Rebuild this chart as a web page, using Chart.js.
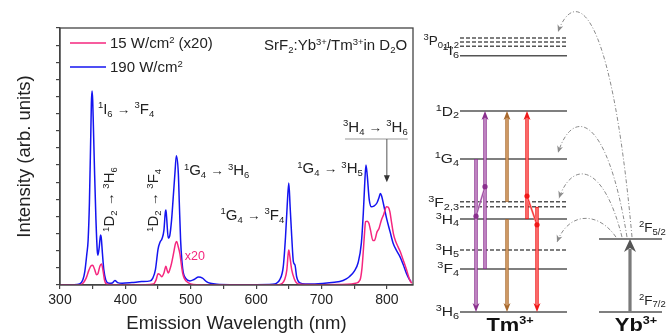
<!DOCTYPE html>
<html>
<head>
<meta charset="utf-8">
<script src="https://cdn.jsdelivr.net/npm/chart.js@4.4.0/dist/chart.umd.min.js"></script>
<style>
html, body { margin: 0; padding: 0; background: #fff; }
#wrap { position: relative; width: 669px; height: 333px; overflow: hidden; }
#spec { position: absolute; left: 0; top: 0; }
#levels { position: absolute; left: 420px; top: 0; }
</style>
</head>
<body>
<div id="wrap">
  <canvas id="spec" width="420" height="333"></canvas>
  <canvas id="levels" width="249" height="333"></canvas>
</div>
<script>
// ---- spectra (intensity in tick units) ----
var seriesNames = ['15 W/cm^{2} (x20)', '190 W/cm^{2}'];
var seriesColors = ['#f5267e', '#1414f0'];

var lowWl = [300,330,335,340,344,347,350,353,356,358,361,363.5,366,368,371,380,430,443,447,450,453,455.5,459,462,464,465.7,468,470.7,474,476.5,478.4,480.5,483.5,486,487.6,490,493.7,500,510,600,635,640,643.5,647,649,650,651.5,654.5,658,662,668,700,740,752,759,762,764,766,767.4,770,772.5,775,778.6,781,785,788,791.7,795,799.5,802,804.6,807,810,813,817,821,825,830,835,838];
var lowI = [0,0,0.05,0.2,0.42,0.55,0.58,0.45,0.3,0.33,0.55,0.61,0.4,0.15,0.03,0.01,0.01,0.03,0.15,0.33,0.3,0.24,0.35,0.55,0.42,0.35,0.45,0.64,0.95,1.2,1.27,1.15,0.9,0.55,0.35,0.2,0.1,0.03,0.01,0,0.01,0.05,0.15,0.44,0.9,1.02,0.85,0.44,0.2,0.06,0.02,0.01,0.02,0.05,0.15,0.5,1.0,1.55,1.85,1.86,1.8,1.6,1.3,1.3,1.55,1.65,1.9,2.05,2.28,2.27,2.14,1.85,1.5,1.3,1.12,0.95,0.73,0.45,0.15,0.05];

var highWl = [300,320,330,335,338,341,343,345,347,348,349,350,351,353,355,357,358,360,362,363,365,367,370,375,380,384,388,395,410,425,438,442,446,450,453,456,459,461,462,463,465.6,468,470.7,473,475.8,478,481,482.5,484.5,486.5,488.6,492,498.8,505,512,518,524,530,540,560,600,625,631,636,641.5,645,647.5,650,652,654.5,657,659.5,662,667,675,690,705,720,728,738,743,750,756,761,764,766,768,770,773,776.5,780,785,788,790,792,795,799.5,805,809.6,815,820,825,830,834,837];
var highI = [0,0.01,0.03,0.15,0.4,0.9,1.3,2.4,4.3,5.3,5.66,5.4,4.7,3.2,1.9,1.0,0.87,1.1,1.46,1.4,0.9,0.45,0.15,0.05,0.06,0.13,0.07,0.05,0.07,0.1,0.12,0.2,0.45,1.05,1.25,1.35,1.6,2.1,2.19,2.0,1.37,1.45,1.9,2.5,3.26,3.77,3.26,2.4,1.31,0.7,0.36,0.2,0.12,0.16,0.23,0.2,0.1,0.05,0.02,0.01,0.01,0.02,0.05,0.15,0.53,1.41,2.3,2.98,2.3,1.41,0.68,0.58,0.24,0.06,0.03,0.03,0.05,0.08,0.1,0.18,0.25,0.4,0.65,1.22,2.1,2.9,3.5,3.2,2.5,2.28,2.3,2.4,2.55,2.67,2.6,2.35,1.95,1.55,1.22,1.0,0.83,0.6,0.34,0.18,0.1];

var xTickLabels = [300, 400, 500, 600, 700, 800];

// peak assignments: text, wavelength, intensity
var peakText = ['^{1}I_{6} → ^{3}F_{4}', '^{1}D_{2} → ^{3}H_{6}', '^{1}D_{2} → ^{3}F_{4}', '^{1}G_{4} → ^{3}H_{6}', '^{1}G_{4} → ^{3}F_{4}', '^{1}G_{4} → ^{3}H_{5}', '^{3}H_{4} → ^{3}H_{6}', 'SrF_{2}:Yb^{3+}/Tm^{3+}in D_{2}O'];
var peakAtWl = [358, 383, 450, 489.5, 545.5, 663, 733, 831];
var peakAtI = [5.0, 1.55, 1.55, 3.2, 1.9, 3.26, 4.47, 6.85];

// ---- energy levels (10^3 cm^-1, as drawn) ----
var tmNames = ['3H6','3F4','3H5','3H4','3F3','3F2','1G4','1D2','1I6','3P0','3P1','3P2'];
var tmEnergy = [0, 5.97, 8.6, 12.9, 14.6, 15.3, 21.25, 27.9, 35.6, 36.9, 37.5, 38.05];
var tmDashed = [false, false, true, false, true, true, false, false, false, true, true, true];
var tmLabelText = ['^{3}P_{0,1,2}','^{1}I_{6}','^{1}D_{2}','^{1}G_{4}','^{3}F_{2,3}','^{3}H_{4}','^{3}H_{5}','^{3}F_{4}','^{3}H_{6}'];
var tmLabelE = [37.7, 36.3, 27.9, 21.25, 15.2, 12.9, 8.6, 5.97, 0];
var ybNames = ['2F7/2', '2F5/2'];
var ybEnergy = [0, 10.14];
var ybLabelText = ['^{2}F_{7/2}', '^{2}F_{5/2}'];
var ybLabelE = [1.6, 11.7];

var FAM = '"Liberation Sans", Arial, Helvetica, sans-serif';

function parseRich(s) {
  var out = [], re = /\^\{([^}]*)\}|_\{([^}]*)\}|(→)|([^^_→]+)/g, m;
  while ((m = re.exec(s))) {
    if (m[1] != null) out.push({ t: m[1], k: 'sup' });
    else if (m[2] != null) out.push({ t: m[2], k: 'sub' });
    else if (m[3] != null) out.push({ t: m[3], k: 'arr' });
    else out.push({ t: m[4], k: '' });
  }
  return out;
}

function runFont(r, o) {
  var sz = r.k === 'sup' || r.k === 'sub' ? o.small : r.k === 'arr' ? o.arrow : o.size;
  return (o.bold ? 'bold ' : '') + sz + 'px ' + FAM;
}

function drawRich(ctx, s, x, y, o) {
  var runs = parseRich(s), w = 0, sx = o.stretch || 1;
  runs.forEach(function(r) { ctx.font = runFont(r, o); r.w = ctx.measureText(r.t).width; w += r.w; });
  var cx = o.align === 'right' ? -w : o.align === 'center' ? -w / 2 : 0;
  ctx.save();
  ctx.translate(x, y);
  ctx.scale(sx, 1);
  ctx.fillStyle = o.color || '#222';
  ctx.textAlign = 'left';
  ctx.textBaseline = 'alphabetic';
  runs.forEach(function(r) {
    ctx.font = runFont(r, o);
    var dy = r.k === 'sup' ? o.supDy : r.k === 'sub' ? o.subDy : r.k === 'arr' ? o.arrDy : 0;
    ctx.fillText(r.t, cx, dy);
    cx += r.w;
  });
  ctx.restore();
}

var specText = { size: 15, small: 9.5, arrow: 13.5, supDy: -5.5, subDy: 3, arrDy: 0, color: '#222' };

var specDecor = {
  id: 'specDecor',
  afterDatasetsDraw: function(chart) {
    var ctx = chart.ctx, a = chart.chartArea, xs = chart.scales.x, ys = chart.scales.y;
    ctx.save();
    ctx.strokeStyle = '#444';
    ctx.lineWidth = 1.3;
    ctx.strokeRect(a.left, a.top, a.right - a.left, a.bottom - a.top);

    // legend
    chart.data.datasets.forEach(function(ds, i) {
      var ly = 43 + i * 24;
      ctx.strokeStyle = ds.borderColor;
      ctx.lineWidth = 1.5;
      ctx.beginPath(); ctx.moveTo(70, ly); ctx.lineTo(106, ly); ctx.stroke();
      drawRich(ctx, ds.label, 110, ly + 5, specText);
    });

    // assignments
    peakText.forEach(function(t, i) {
      var px = xs.getPixelForValue(peakAtWl[i]), py = ys.getPixelForValue(peakAtI[i]);
      if (i === 1 || i === 2) {
        ctx.save();
        ctx.translate(px, py);
        ctx.rotate(-Math.PI / 2);
        drawRich(ctx, t, 0, 0, specText);
        ctx.restore();
      } else {
        drawRich(ctx, t, px, py, Object.assign({}, specText, { align: i === 7 ? 'right' : 'left' }));
      }
    });

    // x20 tag
    drawRich(ctx, 'x20', xs.getPixelForValue(491), ys.getPixelForValue(0.72), { size: 12.5, small: 9, color: seriesColors[0] });

    // 3H4 -> 3H6 bracket and arrow
    var by = ys.getPixelForValue(4.26), ax = xs.getPixelForValue(800), ay = ys.getPixelForValue(3.0);
    ctx.strokeStyle = '#999';
    ctx.lineWidth = 1.2;
    ctx.beginPath(); ctx.moveTo(xs.getPixelForValue(736), by); ctx.lineTo(xs.getPixelForValue(832), by); ctx.stroke();
    ctx.strokeStyle = '#555';
    ctx.lineWidth = 1;
    ctx.beginPath(); ctx.moveTo(ax, by); ctx.lineTo(ax, ay - 5); ctx.stroke();
    ctx.fillStyle = '#333';
    ctx.beginPath(); ctx.moveTo(ax, ay); ctx.lineTo(ax - 3, ay - 7); ctx.lineTo(ax + 3, ay - 7); ctx.closePath(); ctx.fill();
    ctx.restore();
  }
};

function pairs(xv, yv) { return xv.map(function(v, i) { return { x: v, y: yv[i] }; }); }

new Chart(document.getElementById('spec'), {
  type: 'line',
  data: {
    datasets: [
      { label: seriesNames[0], data: pairs(lowWl, lowI), borderColor: seriesColors[0], borderWidth: 1.5, pointRadius: 0, cubicInterpolationMode: 'monotone', fill: false },
      { label: seriesNames[1], data: pairs(highWl, highI), borderColor: seriesColors[1], borderWidth: 1.5, pointRadius: 0, cubicInterpolationMode: 'monotone', fill: false }
    ]
  },
  options: {
    responsive: false,
    animation: false,
    layout: { padding: { left: 0, right: 7, top: 28, bottom: 0 } },
    plugins: { legend: { display: false }, tooltip: { enabled: false } },
    scales: {
      x: {
        type: 'linear', min: 300, max: 840,
        afterFit: function(s) { s.height = 48; },
        ticks: {
          stepSize: 50, includeBounds: false, autoSkip: false, maxRotation: 0, padding: 3,
          color: '#222', font: { family: FAM, size: 14 },
          callback: function(v) { return xTickLabels.indexOf(v) >= 0 ? String(v) : ''; }
        },
        grid: { drawOnChartArea: false, drawTicks: true, tickLength: 4, color: '#444', lineWidth: 1.2 },
        border: { display: true, color: '#444', width: 1.3 },
        title: { display: true, text: 'Emission Wavelength (nm)', color: '#222', font: { family: FAM, size: 18.5 }, padding: { top: 0, bottom: -2 } }
      },
      y: {
        min: 0, max: 7.5,
        afterFit: function(s) { s.width = 60; },
        ticks: { stepSize: 0.5, display: false, includeBounds: false },
        grid: { drawOnChartArea: false, drawTicks: true, tickLength: 4, color: '#444', lineWidth: 1.2 },
        border: { display: true, color: '#444', width: 1.3 },
        title: { display: true, text: 'Intensity (arb. units)', color: '#222', font: { family: FAM, size: 18.5 }, padding: { top: 14, bottom: 0 } }
      }
    }
  },
  plugins: [specDecor]
});

// ---- level diagram ----
var TM_X0 = 40, TM_X1 = 147, YB_X0 = 179, YB_X1 = 242;

var levelSets = [];
tmEnergy.forEach(function(e, i) {
  levelSets.push({ label: tmNames[i], data: [{ x: TM_X0, y: e }, { x: TM_X1, y: e }], borderColor: '#555', borderWidth: 1.5, borderDash: tmDashed[i] ? [4, 2] : [], pointRadius: 0 });
});
ybEnergy.forEach(function(e, i) {
  levelSets.push({ label: ybNames[i], data: [{ x: YB_X0, y: e }, { x: YB_X1, y: e }], borderColor: '#555', borderWidth: 1.5, pointRadius: 0 });
});

// transitions in Tm3+: x position, from energy, to energy, colour group
var transX = [56, 65, 87, 87, 107, 117];
var transFrom = [21.25, 5.97, 12.9, 15.3, 12.9, 14.6];
var transTo = [0, 27.9, 0, 27.9, 27.9, 0];
var transCol = ['p', 'p', 'b', 'b', 'r', 'r'];
var colDark = { p: '#8a2f8e', b: '#a8692d', r: '#f01818' };
var colLight = { p: '#d4a6d6', b: '#dfae7c', r: '#ff8a8a' };
// relaxation steps (dots joined): x0,e0 -> x1,e1
var stepFrom = [[56, 13.3], [107, 16.1]];
var stepTo = [[65, 17.4], [117, 12.1]];
var stepCol = ['p', 'r'];
// Yb -> Tm energy transfer curves: start, apex, tip
var etStart = [[212, 10.4], [207, 10.4], [202, 10.4], [196, 10.4]];
var etApex = [[160, 39.6], [163, 25.2], [168, 19.0], [170, 13.0]];
var etTip = [[138, 38.9], [138, 22.1], [139, 15.8], [137, 9.7]];

var diagText = { size: 13.5, small: 9.5, arrow: 9, supDy: -5, subDy: 2.5, arrDy: 0, color: '#222', stretch: 1.15 };

function headAt(ctx, x, y, dx, dy, w, l, col) {
  var n = Math.sqrt(dx * dx + dy * dy); dx /= n; dy /= n;
  var bx = x - dx * l, by = y - dy * l, mx = x - dx * l * 0.7, my = y - dy * l * 0.7;
  ctx.fillStyle = col;
  ctx.beginPath();
  ctx.moveTo(x, y);
  ctx.lineTo(bx - dy * w / 2, by + dx * w / 2);
  ctx.lineTo(mx, my);
  ctx.lineTo(bx + dy * w / 2, by - dx * w / 2);
  ctx.closePath();
  ctx.fill();
}

var levelDecor = {
  id: 'levelDecor',
  afterDatasetsDraw: function(chart) {
    var ctx = chart.ctx, xs = chart.scales.x, ys = chart.scales.y;
    function X(v) { return xs.getPixelForValue(v); }
    function Y(v) { return ys.getPixelForValue(v); }
    ctx.save();

    // labels
    tmLabelText.forEach(function(t, i) {
      var o = Object.assign({ align: 'right' }, diagText);
      if (i === 0) o.stretch = 1;
      drawRich(ctx, t, X(TM_X0) - 1, Y(tmLabelE[i]) + 4.5, o);
    });
    ybLabelText.forEach(function(t, i) { drawRich(ctx, t, X(219), Y(ybLabelE[i]) + 4.5, Object.assign({}, diagText, { stretch: 1 })); });
    var bigText = { size: 19, small: 11, supDy: -7, subDy: 0, bold: true, align: 'center', color: '#111', stretch: 1.15 };
    drawRich(ctx, 'Tm^{3+}', X(90), Y(0) + 19, bigText);
    drawRich(ctx, 'Yb^{3+}', X(216), Y(0) + 19, bigText);

    // Tm transitions
    transX.forEach(function(xv, i) {
      var x = X(xv), y0 = Y(transFrom[i]), y1 = Y(transTo[i]);
      var dir = y1 > y0 ? 1 : -1, yEnd = y1 - dir * 6;
      ctx.lineCap = 'butt';
      ctx.strokeStyle = colDark[transCol[i]]; ctx.lineWidth = 3.4;
      ctx.beginPath(); ctx.moveTo(x, y0); ctx.lineTo(x, yEnd); ctx.stroke();
      ctx.strokeStyle = colLight[transCol[i]]; ctx.lineWidth = 1.4;
      ctx.beginPath(); ctx.moveTo(x, y0 + dir * 0.8); ctx.lineTo(x, yEnd); ctx.stroke();
      headAt(ctx, x, y1, 0, dir, 7, 9, colDark[transCol[i]]);
    });
    stepFrom.forEach(function(p, i) {
      var c = colDark[stepCol[i]];
      ctx.strokeStyle = colLight[stepCol[i]]; ctx.lineWidth = 2;
      ctx.beginPath(); ctx.moveTo(X(p[0]), Y(p[1])); ctx.lineTo(X(stepTo[i][0]), Y(stepTo[i][1])); ctx.stroke();
      ctx.strokeStyle = c; ctx.lineWidth = 0.8; ctx.stroke();
      ctx.fillStyle = c;
      [p, stepTo[i]].forEach(function(q) { ctx.beginPath(); ctx.arc(X(q[0]), Y(q[1]), 2.6, 0, Math.PI * 2); ctx.fill(); });
    });

    // Yb excitation
    var gx = X(210);
    ctx.strokeStyle = '#7a7a7a'; ctx.lineWidth = 3.2;
    ctx.beginPath(); ctx.moveTo(gx, Y(0)); ctx.lineTo(gx, Y(ybEnergy[1]) + 10); ctx.stroke();
    headAt(ctx, gx, Y(ybEnergy[1]), 0, -1, 12, 13, '#555');

    // energy transfer curves
    ctx.strokeStyle = '#8a8a8a'; ctx.lineWidth = 1;
    ctx.setLineDash([4, 2, 1, 2]);
    etStart.forEach(function(s, i) {
      var sx = X(s[0]), sy = Y(s[1]), tx = X(etTip[i][0]), ty = Y(etTip[i][1]), py = Y(etApex[i][1]);
      var dx = sx - tx, cy = (8 * py - sy - ty) / 6;
      var c1x = sx - 0.3 * dx, c2x = tx + 0.2 * dx;
      ctx.beginPath(); ctx.moveTo(sx, sy); ctx.bezierCurveTo(c1x, cy, c2x, cy, tx, ty); ctx.stroke();
      ctx.setLineDash([]);
      headAt(ctx, tx, ty, tx - c2x, ty - cy, 6, 7, '#8a8a8a');
      ctx.setLineDash([4, 2, 1, 2]);
    });
    ctx.setLineDash([]);
    ctx.restore();
  }
};

new Chart(document.getElementById('levels'), {
  type: 'line',
  data: { datasets: levelSets },
  options: {
    responsive: false,
    animation: false,
    layout: { padding: 0 },
    plugins: { legend: { display: false }, tooltip: { enabled: false } },
    scales: {
      x: { type: 'linear', display: false, min: 0, max: 249 },
      y: { type: 'linear', display: false, min: -2.92, max: 43.33 }
    }
  },
  plugins: [levelDecor]
});
</script>
</body>
</html>
